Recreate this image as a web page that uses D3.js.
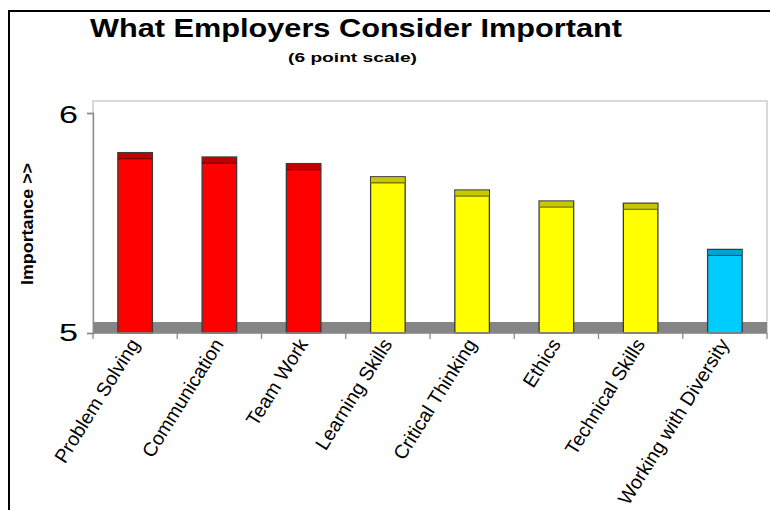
<!DOCTYPE html>
<html>
<head>
<meta charset="utf-8">
<script src="https://cdn.jsdelivr.net/npm/d3@7"></script>
<style>
  html, body { margin: 0; padding: 0; background: #fff; }
  svg { display: block; font-family: Arial, "Liberation Sans", Helvetica, sans-serif; }
</style>
</head>
<body>
<svg id="chart" width="770" height="510"></svg>
<script>
// Skills ranked by employers on a 6 point scale
const skills = ["Problem Solving", "Communication", "Team Work", "Learning Skills",
                "Critical Thinking", "Ethics", "Technical Skills", "Working with Diversity"];
const importance = [5.82, 5.80, 5.77, 5.71, 5.65, 5.60, 5.59, 5.38];
const tier = ["high", "high", "high", "mid", "mid", "mid", "mid", "low"];
const yTicks = [5, 6];

const palette = {
  high: { face: "#ff0000", cap: "#c00000", edge: "#7a0000" },
  mid:  { face: "#ffff00", cap: "#c8c800", edge: "#7a7a00" },
  low:  { face: "#00ccff", cap: "#00a2d0", edge: "#005f7a" }
};

const svg = d3.select("#chart");

// outer frame
svg.append("line").attr("x1", 9).attr("x2", 9).attr("y1", 10).attr("y2", 510)
  .attr("stroke", "#000").attr("stroke-width", 2);
svg.append("line").attr("x1", 8).attr("x2", 770).attr("y1", 11).attr("y2", 11)
  .attr("stroke", "#000").attr("stroke-width", 2);

// titles
svg.append("text").text("What Employers Consider Important")
  .attr("x", 90).attr("y", 37).attr("font-size", 25).attr("font-weight", "bold")
  .attr("textLength", 532).attr("lengthAdjust", "spacingAndGlyphs").attr("fill", "#000");
svg.append("text").text("(6 point scale)")
  .attr("x", 288).attr("y", 62).attr("font-size", 13).attr("font-weight", "bold")
  .attr("textLength", 129).attr("lengthAdjust", "spacingAndGlyphs").attr("fill", "#000");

const plot = { left: 93, right: 767, top: 101, bottom: 333 };

const x = d3.scaleBand().domain(skills).range([plot.left, plot.right]).paddingInner(0).paddingOuter(0);
const y = d3.scaleLinear().domain([5, 6]).range([plot.bottom, 113]);

// plot area frame
svg.append("rect").attr("x", plot.left).attr("y", plot.top)
  .attr("width", plot.right - plot.left).attr("height", plot.bottom - plot.top)
  .attr("fill", "#fff").attr("stroke", "#b4b4b4").attr("stroke-width", 1);

// floor of the 3D chart
svg.append("rect").attr("x", plot.left).attr("y", plot.bottom - 11)
  .attr("width", plot.right - plot.left).attr("height", 11)
  .attr("fill", "#858585");

// bars
const bw = x.bandwidth() * 0.41;
const capH = 6;
const bars = svg.append("g").selectAll("g").data(skills).join("g");
bars.append("rect")
  .attr("x", (d) => x(d) + (x.bandwidth() - bw) / 2)
  .attr("y", (d, i) => y(importance[i]))
  .attr("width", bw)
  .attr("height", (d, i) => y(5) - y(importance[i]))
  .attr("fill", (d, i) => palette[tier[i]].face)
  .attr("stroke", "#3a3a3a").attr("stroke-width", 1.3);
bars.append("rect")
  .attr("x", (d) => x(d) + (x.bandwidth() - bw) / 2 + 0.7)
  .attr("y", (d, i) => y(importance[i]) + 0.7)
  .attr("width", bw - 1.4)
  .attr("height", capH - 1.5)
  .attr("fill", (d, i) => palette[tier[i]].cap);
bars.append("line")
  .attr("x1", (d) => x(d) + (x.bandwidth() - bw) / 2)
  .attr("x2", (d) => x(d) + (x.bandwidth() + bw) / 2)
  .attr("y1", (d, i) => y(importance[i]) + capH)
  .attr("y2", (d, i) => y(importance[i]) + capH)
  .attr("stroke", (d, i) => palette[tier[i]].edge).attr("stroke-width", 1.4);

// y axis
const yAxis = svg.append("g").attr("transform", `translate(${plot.left},0)`)
  .call(d3.axisLeft(y).tickValues(yTicks).tickSize(6).tickFormat(""));
yAxis.select(".domain").attr("stroke", "#8a8a8a").attr("stroke-width", 1.3);
yAxis.selectAll(".tick line").attr("stroke", "#8a8a8a").attr("stroke-width", 1.3);
svg.append("g").selectAll("text").data(yTicks).join("text")
  .text((d) => d3.format("d")(d))
  .attr("x", 59).attr("y", (d) => y(d) + (d === 6 ? 10 : 7.5))
  .attr("font-size", 24).attr("fill", "#000")
  .attr("textLength", 19).attr("lengthAdjust", "spacingAndGlyphs");

// x axis with ticks between categories
const xAxisG = svg.append("g").attr("transform", `translate(0,${plot.bottom})`);
xAxisG.append("line").attr("x1", plot.left).attr("x2", plot.right).attr("y1", 0).attr("y2", 0)
  .attr("stroke", "#8a8a8a").attr("stroke-width", 1.3);
xAxisG.selectAll("line.tk").data(skills.concat([null])).join("line").attr("class", "tk")
  .attr("x1", (d, i) => plot.left + i * x.step()).attr("x2", (d, i) => plot.left + i * x.step())
  .attr("y1", 0).attr("y2", 6).attr("stroke", "#8a8a8a").attr("stroke-width", 1.3);

// category labels
svg.append("g").selectAll("text").data(skills).join("text")
  .text((d) => d)
  .attr("transform", (d) => `translate(${x(d) + x.bandwidth() / 2 + 5},344) rotate(-58)`)
  .attr("text-anchor", "end")
  .attr("font-size", 19.5).attr("fill", "#000");

// y axis title
svg.append("text").text("Importance >>")
  .attr("transform", "translate(33,224) rotate(-90)")
  .attr("text-anchor", "middle").attr("font-size", 16).attr("font-weight", "bold")
  .attr("textLength", 122).attr("lengthAdjust", "spacingAndGlyphs").attr("fill", "#000");
</script>
</body>
</html>
